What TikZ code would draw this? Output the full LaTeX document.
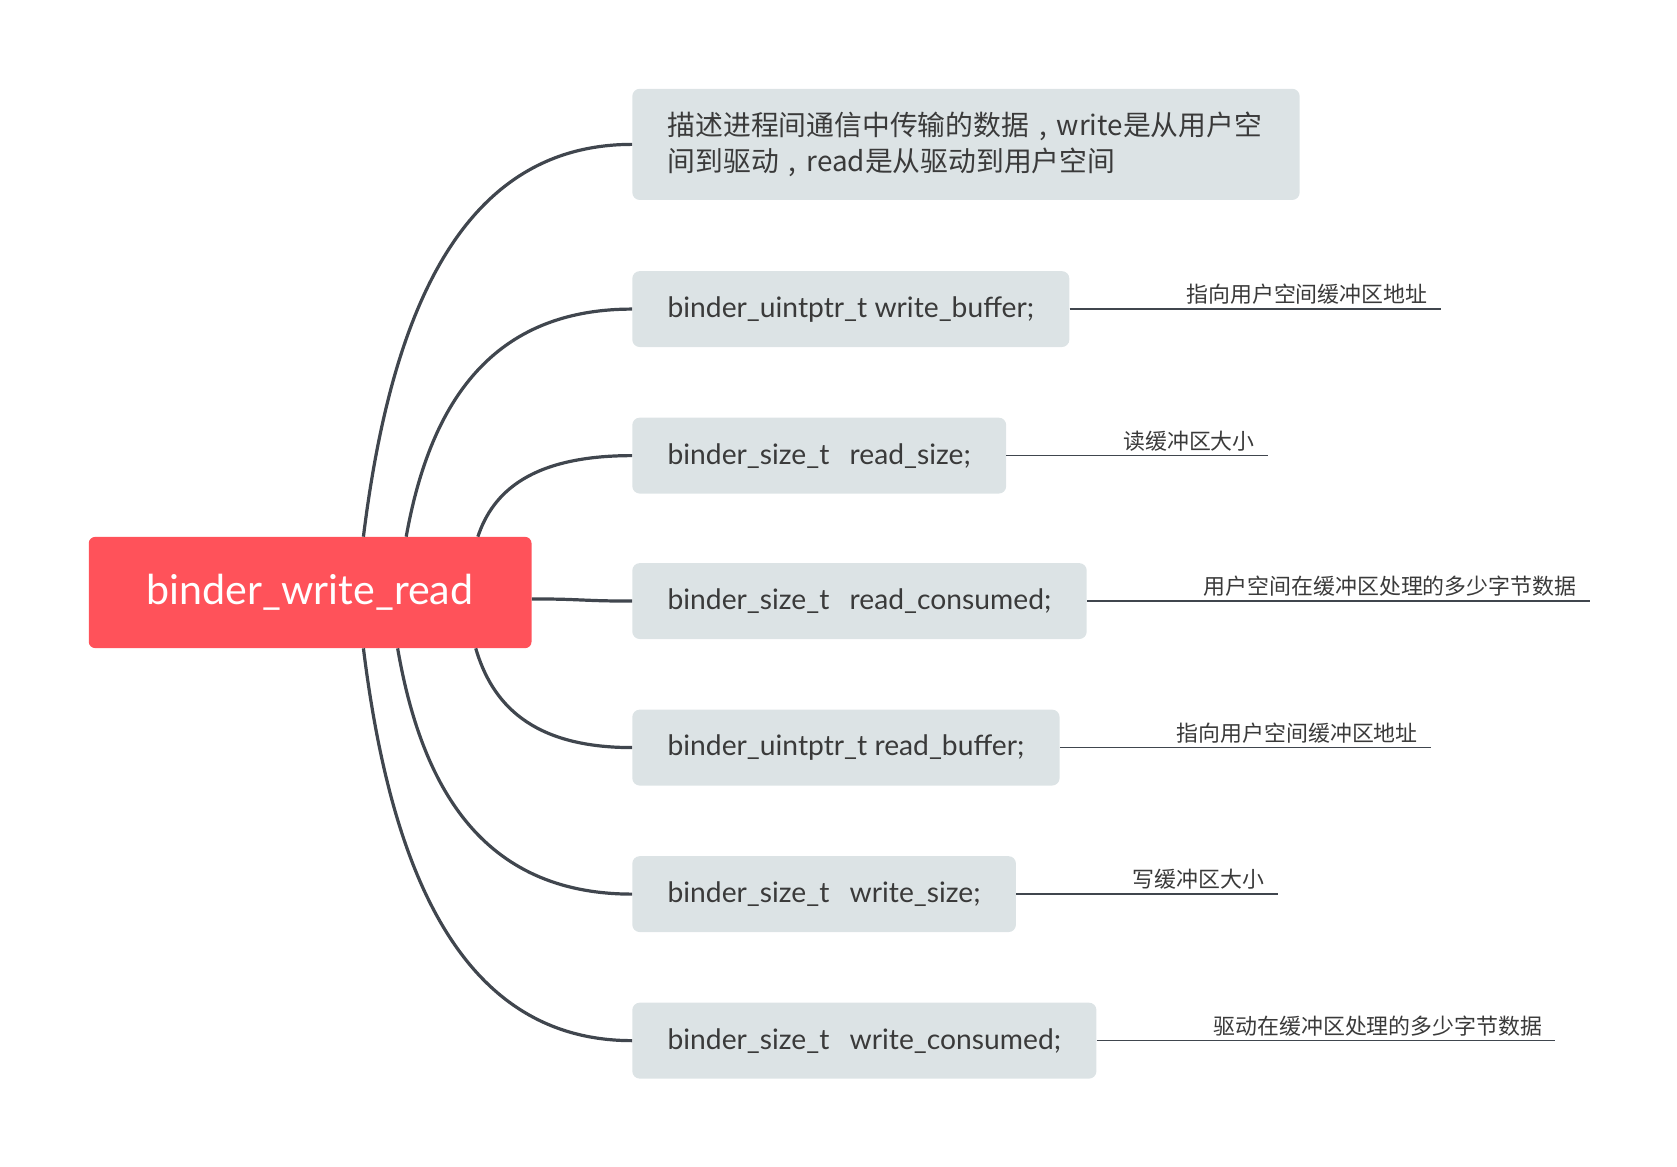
\documentclass[tikz,border=0pt]{standalone}
\usepackage{fontspec}
\setmainfont{Lato}
\newfontfamily\cjk{Noto Sans CJK SC}
\usetikzlibrary{calc}
\definecolor{rootred}{RGB}{255,82,90}
\definecolor{boxgray}{RGB}{220,227,229}
\definecolor{linegray}{RGB}{64,70,78}
\definecolor{txtgray}{RGB}{58,58,58}
\newcommand{\cmma}{\makebox[1em]{,}}
\newcommand{\dsp}{\ \ \hspace{5.5pt}}
\begin{document}
\begin{tikzpicture}[x=1pt,y=-1pt,
  rootbox/.style={fill=rootred, rounded corners=6pt, minimum width=414pt, minimum height=104pt, text=white, font=\fontsize{38.5}{44}\selectfont, inner sep=0pt},
  field/.style={fill=boxgray, rounded corners=7pt, anchor=west, minimum height=71pt, inner xsep=33pt, inner ysep=0pt, text=txtgray, font=\fontsize{26.4}{30}\selectfont},
  branch/.style={draw=linegray, line width=3pt},
  note/.style={text=txtgray, font=\cjk\fontsize{20.5}{24}\selectfont, inner sep=0pt, anchor=base west},
  noteline/.style={draw=linegray, line width=1.5pt},
]
\useasboundingbox (0,0) rectangle (1568,1091);

% root
\node[rootbox] (root) at (290,554) {binder\_write\_read};

% fields
\node[field, minimum height=104pt, text width=558pt, align=left, font=\cjk\fontsize{26}{34}\selectfont] (b1) at (591,135) {描述进程间通信中传输的数据\cmma write是从用户空\\间到驱动\cmma read是从驱动到用户空间};
\node[field] (b2) at (591,289) {binder\_uintptr\_t write\_buffer;};
\node[field] (b3) at (591,426) {binder\_size\_t\dsp read\_size;};
\node[field] (b4) at (591,562) {binder\_size\_t\dsp read\_consumed;};
\node[field] (b5) at (591,699) {binder\_uintptr\_t read\_buffer;};
\node[field] (b6) at (591,836) {binder\_size\_t\dsp write\_size;};
\node[field] (b7) at (591,973) {binder\_size\_t\dsp write\_consumed;};

% branch starts on root
\coordinate (s1) at ($(root.north west)+(257,0)$);
\coordinate (s2) at ($(root.north west)+(297,0)$);
\coordinate (s3) at ($(root.north west)+(364,0)$);
\coordinate (s4) at ($(root.east)+(0,6)$);
\coordinate (s5) at ($(root.south west)+(362,0)$);
\coordinate (s6) at ($(root.south west)+(289,0)$);
\coordinate (s7) at ($(root.south west)+(257,0)$);

\draw[branch] (s1) .. controls +(25,-202) and +(-163,0) .. (b1.west);
\draw[branch] (s2) .. controls +(21,-117) and +(-137,0) .. (b2.west);
\draw[branch] (s3) .. controls +(14,-42) and +(-94,0) .. (b3.west);
\draw[branch] (s4) .. controls +(47,0) and +(-47,0) .. (b4.west);
\draw[branch] (s5) .. controls +(15,51) and +(-95,0) .. (b5.west);
\draw[branch] (s6) .. controls +(22,127) and +(-142,0) .. (b6.west);
\draw[branch] (s7) .. controls +(25,202) and +(-163,0) .. (b7.west);

% notes
\node[note] (n2) at ($(b2.east)+(109,-6)$) {指向用户空间缓冲区地址};
\node[note] (n3) at ($(b3.east)+(109,-6)$) {读缓冲区大小};
\node[note] (n4) at ($(b4.east)+(109,-6)$) {用户空间在缓冲区处理的多少字节数据};
\node[note] (n5) at ($(b5.east)+(109,-6)$) {指向用户空间缓冲区地址};
\node[note] (n6) at ($(b6.east)+(109,-6)$) {写缓冲区大小};
\node[note] (n7) at ($(b7.east)+(109,-6)$) {驱动在缓冲区处理的多少字节数据};

\foreach \i in {2,...,7} {
  \draw[noteline] (b\i.east) -- ($(n\i.east |- b\i.east)+(12,0)$);
}
\end{tikzpicture}
\end{document}
